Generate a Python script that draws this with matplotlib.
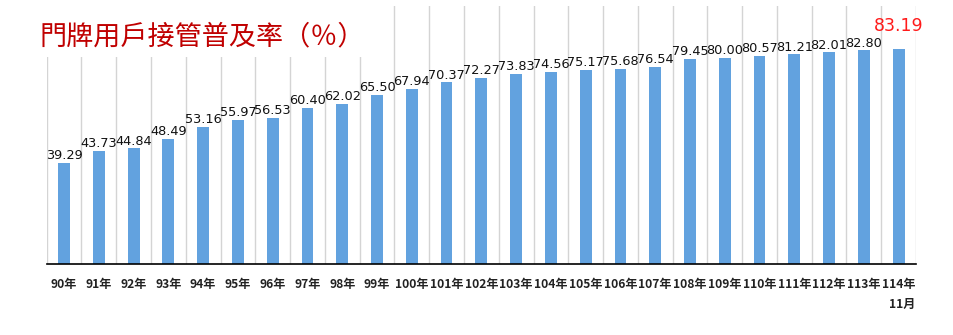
import matplotlib
matplotlib.use("Agg")
import matplotlib.pyplot as plt
from matplotlib.patches import Rectangle
import numpy as np

plt.rcParams['font.family'] = ['Noto Sans CJK TC', 'DejaVu Sans']

years = ["90年", "91年", "92年", "93年", "94年", "95年", "96年", "97年", "98年", "99年",
         "100年", "101年", "102年", "103年", "104年", "105年", "106年", "107年", "108年",
         "109年", "110年", "111年", "112年", "113年", "114年\n11月"]
values = [39.29, 43.73, 44.84, 48.49, 53.16, 55.97, 56.53, 60.40, 62.02, 65.50,
          67.94, 70.37, 72.27, 73.83, 74.56, 75.17, 75.68, 76.54, 79.45,
          80.00, 80.57, 81.21, 82.01, 82.80, 83.19]
title = "門牌用戶接管普及率（％）"

W, H = 954, 335
fig = plt.figure(figsize=(W / 100, H / 100), dpi=100)
ax = fig.add_axes([46.7 / W, (H - 264) / H, (916 - 46.7) / W, (264 - 6) / H])

x = np.arange(len(values))
ax.bar(x, values, width=0.34, color='#62a2df', zorder=2)

ax.set_xlim(-0.5, len(values) - 0.5)
ax.set_ylim(0, 100)
ax.set_xticks(x)
ax.set_xticklabels(years, fontsize=8.7, fontweight='bold', color='#222222',
                   multialignment='right', linespacing=1.7)
ax.set_xticks(np.arange(-0.5, len(values), 1.0), minor=True)
ax.tick_params(axis='x', which='both', length=0, pad=10)
ax.set_yticks([])
ax.grid(axis='x', which='minor', color='#d4d4d4', linewidth=1.0, zorder=0)
ax.grid(axis='x', which='major', visible=False)
for s in ['top', 'left', 'right']:
    ax.spines[s].set_visible(False)
ax.spines['bottom'].set_color('#000000')
ax.spines['bottom'].set_linewidth(1.2)
ax.spines['bottom'].set_zorder(3)

for i, v in enumerate(values):
    if i == len(values) - 1:
        ax.annotate(f"{v:.2f}", (x[i], v), xytext=(0, 10), textcoords='offset points',
                    ha='center', va='bottom', fontsize=12.5, color='#ff1a1a',
                    family=['DejaVu Sans'])
    else:
        ax.annotate(f"{v:.2f}", (x[i], v), xytext=(0, 0.5), textcoords='offset points',
                    ha='center', va='bottom', fontsize=9.3, color='#111111',
                    family=['DejaVu Sans'])

# white box behind title covering gridlines
fig.patches.append(Rectangle((0, (H - 57) / H), 390 / W, 57 / H,
                             transform=fig.transFigure, facecolor='white',
                             edgecolor='none', zorder=5))
fig.text(40 / W, (H - 37) / H, title, fontsize=19.5, color='#c00000',
         ha='left', va='center', zorder=6, fontweight='light')

fig.savefig("out.png", dpi=100, facecolor='white')
